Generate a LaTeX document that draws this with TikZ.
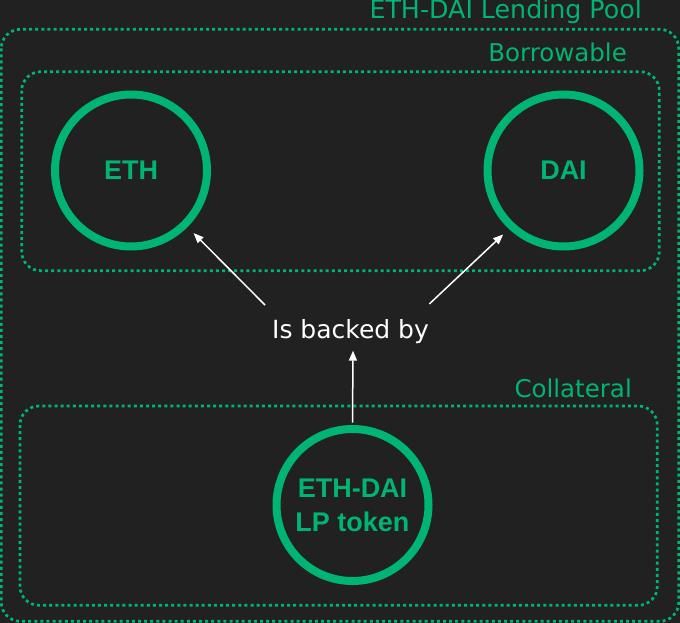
\documentclass[tikz,border=0pt]{standalone}
\usepackage{fontspec}
\setmainfont{DejaVu Sans}
\newfontfamily\circfont{Liberation Sans}
\usetikzlibrary{arrows.meta}
\definecolor{bgc}{HTML}{212121}
\definecolor{grn}{HTML}{00B473}
\tikzset{
  dotbox/.style={draw=grn, line width=2.7pt, dash pattern=on 3pt off 3.1pt, rounded corners=19pt},
  coin/.style={circle, draw=grn, line width=8pt, minimum size=152pt, inner sep=0pt,
    text=grn, font=\circfont\bfseries\fontsize{27}{34}\selectfont, align=center},
  grouplabel/.style={anchor=base east, inner sep=0pt, text=grn, font=\fontsize{24.5}{29}\selectfont},
  backlabel/.style={anchor=base, inner sep=0pt, text=white, font=\fontsize{25}{30}\selectfont},
  arr/.style={draw=white, line width=1.5pt, -{Triangle[length=10pt,width=8pt]}}
}
\begin{document}
\begin{tikzpicture}[x=1pt,y=-1pt]
\fill[bgc] (0,0) rectangle (680,623);
\useasboundingbox (0,0) rectangle (680,623);
% boxes
\draw[dotbox] (1.3,29.3) rectangle (678.7,621.3);
\draw[dotbox] (21.7,71.7) rectangle (659.3,270.7);
\draw[dotbox] (20,406) rectangle (657.3,605.3);
% group labels
\node[grouplabel, font=\fontsize{25.3}{30}\selectfont] (poolLbl) at (642,18.5) {ETH-DAI Lending Pool};
\node[grouplabel] (borLbl) at (627,61.7) {Borrowable};
\node[grouplabel] (colLbl) at (632,397.3) {Collateral};
% coins
\node[coin] (eth) at (131,170.5) {ETH};
\node[coin] (dai) at (563.5,170.5) {DAI};
\node[coin] (lp) at (352.5,505) {ETH-DAI\\LP token};
% label
\node[backlabel] (backed) at (350.5,338) {Is backed by};
% arrow end points near the label
\coordinate (a1) at (265,305);
\coordinate (a2) at (429.3,304);
\coordinate (a3) at (353,350.7);
\draw[arr, shorten >=8.5pt] (a1) -- (eth.-45.8);
\draw[arr, shorten >=8pt] (a2) -- (dai.-133.8);
\draw[arr, shorten <=2.3pt] (lp.north) -- (a3);
\end{tikzpicture}
\end{document}
